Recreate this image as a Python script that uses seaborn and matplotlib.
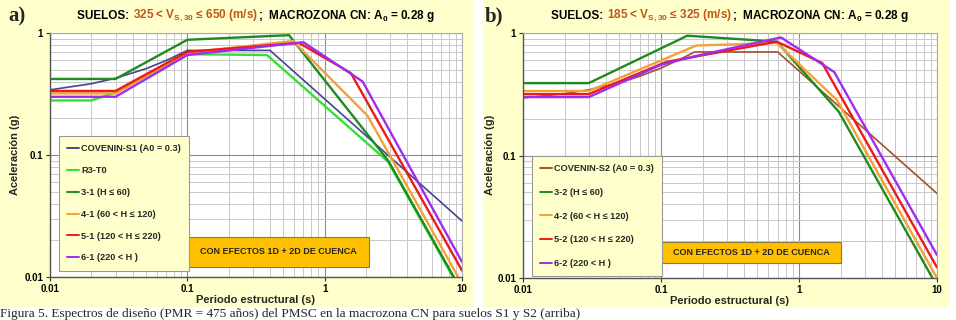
import numpy as np
import pandas as pd
import matplotlib.pyplot as plt
import matplotlib.ticker as mticker
from matplotlib.patches import Rectangle
from matplotlib.offsetbox import TextArea, HPacker, AnchoredOffsetbox
import seaborn as sns

# ---- panel a) 325 < Vs30 <= 650 ----
T_cov1 = [0.01, 0.02, 0.03, 0.05, 0.07, 0.1, 0.4, 10]
Sa_cov1 = [0.342, 0.384, 0.426, 0.51, 0.594, 0.72, 0.72, 0.0288]
T_r3 = [0.01, 0.02, 0.03, 0.1, 0.38, 2.9, 10]
Sa_r3 = [0.28, 0.28, 0.325, 0.67, 0.66, 0.088, 0.0074]
T_31 = [0.01, 0.03, 0.1, 0.55, 2.9, 10]
Sa_31 = [0.42, 0.42, 0.88, 0.96, 0.09, 0.0076]
T_41 = [0.01, 0.03, 0.1, 0.59, 2.05, 10]
Sa_41 = [0.32, 0.32, 0.69, 0.86, 0.21, 0.0088]
T_51 = [0.01, 0.03, 0.1, 0.65, 1.55, 10]
Sa_51 = [0.335, 0.335, 0.70, 0.83, 0.47, 0.0113]
T_61 = [0.01, 0.03, 0.1, 0.70, 1.89, 10]
Sa_61 = [0.30, 0.30, 0.66, 0.84, 0.40, 0.0133]

# ---- panel b) 185 < Vs30 <= 325 ----
T_cov2 = [0.01, 0.02, 0.03, 0.05, 0.07, 0.1, 0.15, 0.175, 0.7, 10]
Sa_cov2 = [0.295, 0.32, 0.344, 0.393, 0.443, 0.517, 0.64, 0.70, 0.70, 0.049]
T_32 = [0.01, 0.03, 0.155, 0.69, 1.94, 10]
Sa_32 = [0.39, 0.39, 0.95, 0.85, 0.228, 0.0086]
T_42 = [0.01, 0.03, 0.18, 0.69, 1.88, 10]
Sa_42 = [0.336, 0.336, 0.79, 0.83, 0.284, 0.010]
T_52 = [0.01, 0.03, 0.109, 0.69, 1.47, 10]
Sa_52 = [0.317, 0.317, 0.58, 0.85, 0.57, 0.0122]
T_62 = [0.01, 0.03, 0.1, 0.18, 0.74, 1.39, 1.8, 10]
Sa_62 = [0.30, 0.30, 0.55, 0.65, 0.92, 0.58, 0.48, 0.0154]

labels_a = ['COVENIN-S1 (A0 = 0.3)', 'R3-T0', '3-1 (H ≤ 60)', '4-1 (60 < H ≤ 120)',
            '5-1 (120 < H ≤ 220)', '6-1 (220 < H )']
labels_b = ['COVENIN-S2 (A0 = 0.3)', '3-2 (H ≤ 60)', '4-2 (60 < H ≤ 120)',
            '5-2 (120 < H ≤ 220)', '6-2 (220 < H )']

C_NAVY = '#45458f'
C_LGREEN = '#33e033'
C_DGREEN = '#1f8a1f'
C_ORANGE = '#f5a035'
C_RED = '#f01818'
C_PURPLE = '#a02cf0'
C_BROWN = '#a0522d'
C_TITLE = '#c0561a'
C_BG = '#ffffcc'

sns.set_theme(style='white')
plt.rcParams['font.family'] = ['Liberation Sans', 'DejaVu Sans']
plt.rcParams['mathtext.fontset'] = 'custom'
plt.rcParams['mathtext.rm'] = 'Liberation Sans:bold'
plt.rcParams['mathtext.bf'] = 'Liberation Sans:bold'
plt.rcParams['mathtext.it'] = 'Liberation Sans:bold'

fig = plt.figure(figsize=(9.56, 3.2), dpi=100)
W, H = 956, 320
BG_BOTTOM = 307
fig.patches.append(Rectangle((0, 1 - BG_BOTTOM / H), 474 / W, BG_BOTTOM / H,
                             transform=fig.transFigure, fc=C_BG, ec='none', zorder=-10))
fig.patches.append(Rectangle((483 / W, 1 - BG_BOTTOM / H), 467 / W, BG_BOTTOM / H,
                             transform=fig.transFigure, fc=C_BG, ec='none', zorder=-10))


def px_axes(x0, x1, y0, y1):
    return fig.add_axes([x0 / W, 1 - y1 / H, (x1 - x0) / W, (y1 - y0) / H])


ax_a = px_axes(50, 462, 33, 277)
ax_b = px_axes(523, 937, 33, 278)

series_a = [(T_cov1, Sa_cov1, C_NAVY), (T_r3, Sa_r3, C_LGREEN), (T_31, Sa_31, C_DGREEN),
            (T_41, Sa_41, C_ORANGE), (T_51, Sa_51, C_RED), (T_61, Sa_61, C_PURPLE)]
series_b = [(T_cov2, Sa_cov2, C_BROWN), (T_32, Sa_32, C_DGREEN), (T_42, Sa_42, C_ORANGE),
            (T_52, Sa_52, C_RED), (T_62, Sa_62, C_PURPLE)]

fmt = mticker.FuncFormatter(lambda v, p: '{:g}'.format(v))


def draw_panel(ax, series, labels, leg_anchor, leg_spacing, box, title_parts, letter, letter_x, ylab_x):
    for (T, Sa, col), lab in zip(series, labels):
        df = pd.DataFrame({'T': T, 'Sa': Sa})
        lw = 1.2 if lab.startswith('COVENIN') else 1.7
        sns.lineplot(data=df, x='T', y='Sa', color=col, lw=lw, label=lab, ax=ax,
                     sort=False, estimator=None)
    ax.set_xscale('log')
    ax.set_yscale('log')
    ax.set_xlim(0.01, 10)
    ax.set_ylim(0.01, 1)
    ax.set_facecolor('white')
    ax.grid(which='major', color='#8c8c8c', lw=0.8)
    ax.grid(which='minor', color='#c8c8c8', lw=0.7)
    ax.xaxis.set_major_formatter(fmt)
    ax.yaxis.set_major_formatter(fmt)
    ax.xaxis.set_minor_formatter(mticker.NullFormatter())
    ax.yaxis.set_minor_formatter(mticker.NullFormatter())
    ax.tick_params(which='major', labelsize=7, length=3, width=0.8, colors='#333333',
                   left=True, bottom=True, pad=2)
    ax.tick_params(which='minor', length=0)
    for t in ax.get_xticklabels() + ax.get_yticklabels():
        t.set_fontweight('bold')
        t.set_color('black')
    for s in ['top', 'right']:
        ax.spines[s].set_color('#aaaaaa')
        ax.spines[s].set_linewidth(0.8)
    for s in ['left', 'bottom']:
        ax.spines[s].set_color('#555555')
        ax.spines[s].set_linewidth(1.0)
    ax.set_xlabel('Periodo estructural (s)', fontsize=8, fontweight='bold', labelpad=1,
                  family=['Liberation Sans Narrow', 'Liberation Sans'])
    ax.set_ylabel('')
    fig.text(ylab_x / W, 1 - 155 / H, 'Aceleración (g)', rotation=90, fontsize=8,
             fontweight='bold', ha='center', va='center')

    leg = ax.legend(loc='upper left', bbox_to_anchor=leg_anchor,
                    prop={'weight': 'bold', 'size': 6.6}, frameon=True, fancybox=False,
                    framealpha=1, facecolor=C_BG, edgecolor='#999999', handlelength=1.3,
                    handletextpad=0.2, labelspacing=leg_spacing, borderpad=0.9,
                    borderaxespad=0)
    leg.get_frame().set_linewidth(0.8)
    for h in leg.get_lines():
        h.set_linewidth(1.4)

    bx0, by0, bx1, by1 = box
    ax.add_patch(Rectangle((bx0, by0), bx1 - bx0, by1 - by0, transform=ax.transAxes,
                           fc='#ffc000', ec='#8a7a40', lw=0.8, zorder=5))
    ax.text((bx0 + bx1) / 2, (by0 + by1) / 2, 'CON EFECTOS 1D + 2D DE CUENCA',
            transform=ax.transAxes, ha='center', va='center', fontsize=6.5,
            fontweight='bold', zorder=6)

    boxes = [TextArea(txt, textprops=dict(color=c, fontsize=8.5, fontweight='bold'))
             for txt, c in title_parts]
    pack = HPacker(children=boxes, align='baseline', pad=0, sep=0)
    anch = AnchoredOffsetbox(loc='lower center', child=pack, frameon=False,
                             bbox_to_anchor=(0.5, 1.035), bbox_transform=ax.transAxes,
                             borderpad=0, pad=0)
    ax.add_artist(anch)
    fig.text(letter_x / W, 1 - 16 / H, letter, fontsize=15, fontweight='bold',
             family=['Liberation Serif'], ha='left', va='center')


draw_panel(ax_a, series_a, labels_a, (0.022, 0.578), 1.4, (0.333, 0.041, 0.774, 0.164),
           [('SUELOS: ', 'black'), (r'325 < $\mathbf{V_{S,30}}$ ≤ 650 (m/s)', C_TITLE),
            (r';  MACROZONA CN: $\mathbf{A_0}$ = 0.28 g', 'black')],
           'a)', 8, 15)
draw_panel(ax_b, series_b, labels_b, (0.022, 0.498), 1.6, (0.333, 0.061, 0.768, 0.147),
           [('SUELOS: ', 'black'), (r'185 < $\mathbf{V_{S,30}}$ ≤ 325 (m/s)', C_TITLE),
            (r';  MACROZONA CN: $\mathbf{A_0}$ = 0.28 g', 'black')],
           'b)', 485, 490)

fig.text(0.0, 1 - 317 / H, 'Figura 5. Espectros de diseño (PMR = 475 años) del PMSC en la '
         'macrozona CN para suelos S1 y S2 (arriba)', fontsize=9.5,
         family=['Liberation Serif'], ha='left', va='baseline')

fig.savefig('out.png', dpi=100)
